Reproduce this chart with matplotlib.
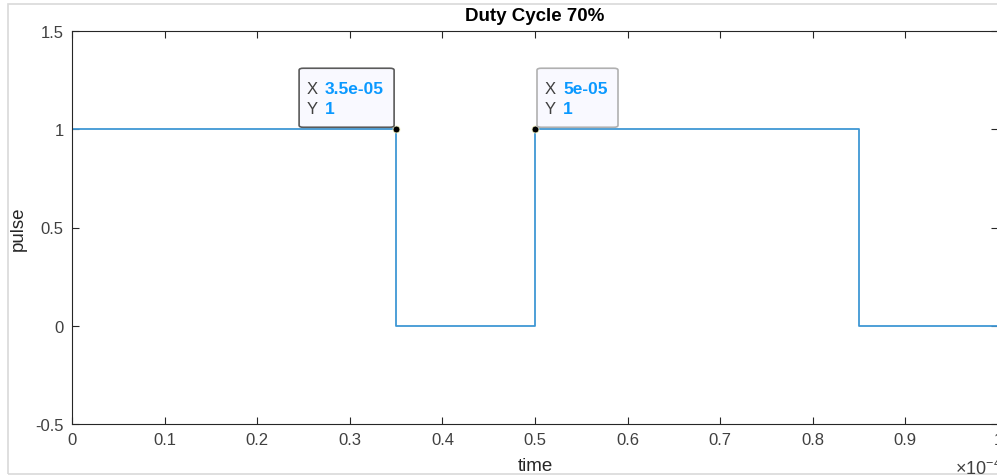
import numpy as np
import matplotlib
matplotlib.use("Agg")
import matplotlib.pyplot as plt
from matplotlib.patches import FancyBboxPatch, Rectangle
from matplotlib.ticker import FuncFormatter

plt.rcParams['font.family'] = ['Liberation Sans', 'DejaVu Sans']
plt.rcParams['mathtext.default'] = 'regular'

# square wave, duty cycle 70%, period 5e-5 s
time = [0, 3.5e-5, 3.5e-5, 5e-5, 5e-5, 8.5e-5, 8.5e-5, 1e-4, 1e-4]
pulse = [1, 1, 0, 0, 1, 1, 0, 0, 1]

# data tips
tip_x = [3.5e-5, 5e-5]
tip_y = [1, 1]
tip_labels = ['3.5e-05', '5e-05']

xticks = [0, 0.1e-4, 0.2e-4, 0.3e-4, 0.4e-4, 0.5e-4, 0.6e-4, 0.7e-4, 0.8e-4, 0.9e-4, 1e-4]
yticks = [-0.5, 0, 0.5, 1, 1.5]

W, H = 997, 477
fig = plt.figure(figsize=(W / 100, H / 100), dpi=100)
fig.patch.set_facecolor('white')

# light gray frame of the figure window
fig.patches.append(Rectangle((8 / W, 2 / H), 1.2, (475 - 5) / H, transform=fig.transFigure,
                             facecolor='none', edgecolor='#d9d9d9', lw=1.2))

ax = fig.add_axes([72 / W, (H - 425) / H, (998 - 72) / W, (425 - 32) / H])
ax.plot(time, pulse, color='#3f97d4', lw=1.3)
ax.set_xlim(0, 1e-4)
ax.set_ylim(-0.5, 1.5)
ax.set_xticks(xticks)
ax.set_yticks(yticks)
ax.xaxis.set_major_formatter(FuncFormatter(lambda v, p: f'{v * 1e4:g}'))
ax.yaxis.set_major_formatter(FuncFormatter(lambda v, p: f'{v:g}'))
ax.tick_params(direction='in', length=5, width=0.8, top=True, right=True,
               colors='#262626', labelcolor='#404040', labelsize=12, pad=6)
for s in ax.spines.values():
    s.set_color('#262626')
    s.set_linewidth(0.8)

ax.set_title('Duty Cycle 70%', fontsize=13.5, fontweight='bold', color='black', pad=8)
ax.set_xlabel('time', fontsize=13.5, color='#262626')
ax.set_ylabel('pulse', fontsize=13.5, color='#262626')
ax.xaxis.set_label_coords(0.5, (425 - 458) / 393)
ax.yaxis.set_label_coords((27 - 72) / 926, 0.5)

fig.text(955 / W, 1 - 469 / H, r'$\times10^{-4}$', fontsize=13, color='#404040',
         ha='left', va='center')

# data tips drawn in pixel space
def px(x, y):
    return x / W, y / H

fig.canvas.draw()
ax.plot(tip_x, tip_y, 'o', ms=5, mfc='black', mec='#f0f0c0', mew=0.6, zorder=5)
for i, (tx, ty, lab) in enumerate(zip(tip_x, tip_y, tip_labels)):
    dx, dy = ax.transData.transform((tx, ty))
    bw = 95 if i == 0 else 81
    bh = 59
    if i == 0:
        x0 = dx - 2 - bw
        ec = '#5a5a5a'
    else:
        x0 = dx + 2
        ec = '#b0b0b0'
    y0 = dy + 2
    box = FancyBboxPatch(px(x0, y0), bw / W, bh / H, transform=fig.transFigure,
                         boxstyle='round,pad=0,rounding_size=0.004',
                         facecolor='#f9f9ff', edgecolor=ec, lw=1.2, zorder=6)
    fig.patches.append(box)
    fig.text(*px(x0 + 8, y0 + 39), 'X', fontsize=12, color='#404040', va='center', zorder=7)
    fig.text(*px(x0 + 26, y0 + 39), lab, fontsize=12.5, color='#0a99ff', fontweight='bold',
             va='center', zorder=7)
    fig.text(*px(x0 + 8, y0 + 19), 'Y', fontsize=12, color='#404040', va='center', zorder=7)
    fig.text(*px(x0 + 26, y0 + 19), '1', fontsize=12.5, color='#0a99ff', fontweight='bold',
             va='center', zorder=7)

fig.savefig('out.png', dpi=100)
